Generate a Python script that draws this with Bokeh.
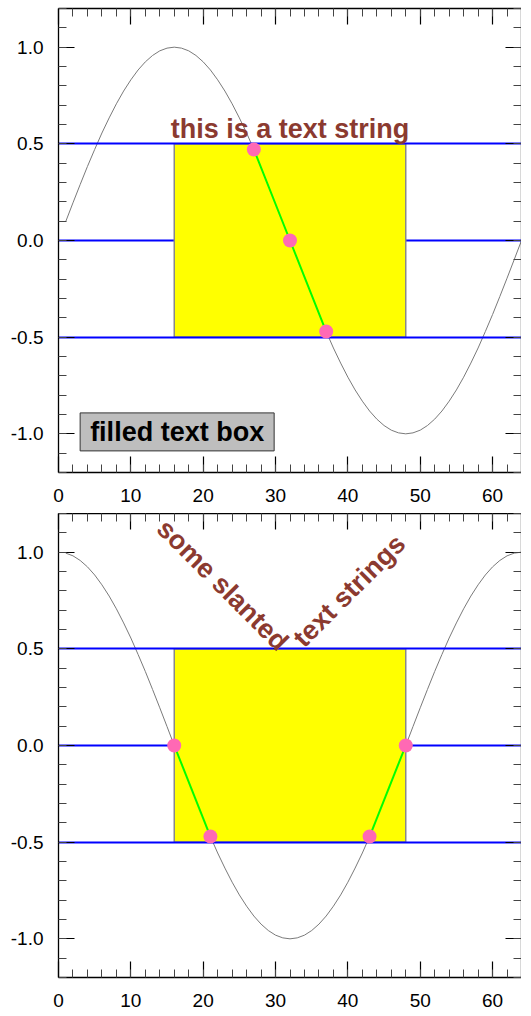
import math
from bokeh.plotting import figure
from bokeh.layouts import column
from bokeh.models import LinearAxis, FixedTicker, Range1d, CustomLabelingPolicy
from bokeh.core.properties import value
from bokeh.embed import file_html
from bokeh.resources import INLINE

# ---------------- data ----------------
x_vals = list(range(1, 65))
sine_vals = [0.098, 0.195, 0.290, 0.383, 0.471, 0.556, 0.634, 0.707, 0.773, 0.831,
             0.882, 0.924, 0.957, 0.981, 0.995, 1.000, 0.995, 0.981, 0.957, 0.924,
             0.882, 0.831, 0.773, 0.707, 0.634, 0.556, 0.471, 0.383, 0.290, 0.195,
             0.098, 0.000, -0.098, -0.195, -0.290, -0.383, -0.471, -0.556, -0.634, -0.707,
             -0.773, -0.831, -0.882, -0.924, -0.957, -0.981, -0.995, -1.000, -0.995, -0.981,
             -0.957, -0.924, -0.882, -0.831, -0.773, -0.707, -0.634, -0.556, -0.471, -0.383,
             -0.290, -0.195, -0.098, 0.000]
cos_vals = [0.995, 0.981, 0.957, 0.924, 0.882, 0.831, 0.773, 0.707, 0.634, 0.556,
            0.471, 0.383, 0.290, 0.195, 0.098, 0.000, -0.098, -0.195, -0.290, -0.383,
            -0.471, -0.556, -0.634, -0.707, -0.773, -0.831, -0.882, -0.924, -0.957, -0.981,
            -0.995, -1.000, -0.995, -0.981, -0.957, -0.924, -0.882, -0.831, -0.773, -0.707,
            -0.634, -0.556, -0.471, -0.383, -0.290, -0.195, -0.098, 0.000, 0.098, 0.195,
            0.290, 0.383, 0.471, 0.556, 0.634, 0.707, 0.773, 0.831, 0.882, 0.924,
            0.957, 0.981, 0.995, 1.000]

x_major = [0, 10, 20, 30, 40, 50, 60]
x_minor = [0, 2, 4, 6, 8, 10, 12, 14, 16, 18, 20, 22, 24, 26, 28, 30, 32,
           34, 36, 38, 40, 42, 44, 46, 48, 50, 52, 54, 56, 58, 60, 62, 64]
y_major = [-1.0, -0.5, 0.0, 0.5, 1.0]
y_minor = [-1.2, -1.1, -1.0, -0.9, -0.8, -0.7, -0.6, -0.5, -0.4, -0.3, -0.2, -0.1, 0.0,
           0.1, 0.2, 0.3, 0.4, 0.5, 0.6, 0.7, 0.8, 0.9, 1.0, 1.1, 1.2]
y_labels = {-1.0: "-1.0", -0.5: "-0.5", 0.0: "0.0", 0.5: "0.5", 1.0: "1.0"}

box_x = [16, 48]
box_y = [-0.5, 0.5]
hline_y = [0.5, 0.0, -0.5]

top_pts_x = [27, 32, 37]
top_pts_y = [0.471, 0.0, -0.471]
bot_seg_x = [[16, 21], [43, 48]]
bot_seg_y = [[0.0, -0.471], [-0.471, 0.0]]

top_text = ["this is a text string"]
top_text_x = [32]
top_text_y = [0.575]
box_text = ["filled text box"]
box_text_x = [16.4]
box_text_y = [-0.99]
slant1_text = ["some slanted"]
slant1_x = [22.7]
slant1_y = [0.83]
slant2_text = ["text strings"]
slant2_x = [40.2]
slant2_y = [0.80]

FONT = value("Liberation Sans")
BROWN = "#8B3A30"

NO_LABELS = """
for (const i of indices) {
    indices.unset(i)
}
return indices
"""


def style_axis(ax, labels):
    ax.major_tick_in = 16
    ax.major_tick_out = 0
    ax.minor_tick_in = 8
    ax.minor_tick_out = 0
    ax.axis_line_color = "black"
    ax.axis_line_width = 1.3
    ax.major_tick_line_color = "black"
    ax.major_tick_line_width = 1.2
    ax.minor_tick_line_color = "#444444"
    ax.minor_tick_line_width = 1
    if labels:
        ax.major_label_text_font = "Liberation Sans"
        ax.major_label_text_font_size = "19px"
        ax.major_label_text_color = "black"
    else:
        ax.major_label_text_font_size = "0px"
        ax.major_label_standoff = 0
        ax.major_label_policy = CustomLabelingPolicy(code=NO_LABELS)


def make_fig(top_border, bottom_border):
    p = figure(frame_width=463, frame_height=464,
               x_range=Range1d(0, 64), y_range=Range1d(-1.2, 1.2),
               output_backend="svg", toolbar_location=None,
               min_border_left=58, min_border_right=0,
               min_border_top=top_border, min_border_bottom=bottom_border)
    p.grid.visible = False
    p.outline_line_color = None
    p.background_fill_color = "white"
    p.border_fill_color = "white"

    xt = FixedTicker(ticks=x_major, minor_ticks=x_minor)
    yt = FixedTicker(ticks=y_major, minor_ticks=y_minor)

    xa = p.xaxis[0]
    xa.ticker = xt
    style_axis(xa, True)
    xa.major_label_standoff = 16
    ya = p.yaxis[0]
    ya.ticker = yt
    ya.major_label_overrides = y_labels
    style_axis(ya, True)
    ya.major_label_standoff = 15

    top_ax = LinearAxis(ticker=FixedTicker(ticks=x_major, minor_ticks=x_minor))
    style_axis(top_ax, False)
    p.add_layout(top_ax, "above")
    right_ax = LinearAxis(ticker=FixedTicker(ticks=y_major, minor_ticks=y_minor))
    style_axis(right_ax, False)
    p.add_layout(right_ax, "right")
    return p


def draw_common(p, yvals):
    p.line(x_vals, yvals, line_color="#7a7a7a", line_width=1)
    p.hspan(y=[hline_y[1]], line_color="blue", line_width=2)
    p.quad(left=[box_x[0]], right=[box_x[1]], bottom=[box_y[0]], top=[box_y[1]],
           fill_color="yellow", line_color="#888888", line_width=1.5)
    p.hspan(y=[hline_y[0], hline_y[2]], line_color="blue", line_width=2)


# ---------------- top panel ----------------
p1 = make_fig(8, 41)
draw_common(p1, sine_vals)
p1.line(top_pts_x, top_pts_y, line_color="#00FF00", line_width=2)
p1.scatter(top_pts_x, top_pts_y, size=14, fill_color="#FF69B4", line_color=None)
p1.text(top_text_x, top_text_y, text=top_text, text_font=FONT, text_font_style="bold",
        text_font_size="27px", text_color=BROWN, text_align="center",
        text_baseline="alphabetic")
p1.text(box_text_x, box_text_y, text=box_text, text_font=FONT, text_font_style="bold",
        text_font_size="27px", text_color="black", text_align="center",
        text_baseline="middle", background_fill_color="#BEBEBE",
        border_line_color="#333333", border_line_width=1, padding=(10, 4))

# ---------------- bottom panel ----------------
p2 = make_fig(0, 0)
draw_common(p2, cos_vals)
p2.multi_line(bot_seg_x, bot_seg_y, line_color="#00FF00", line_width=2)
p2.scatter([s for seg in bot_seg_x for s in seg], [s for seg in bot_seg_y for s in seg],
           size=14, fill_color="#FF69B4", line_color=None)
p2.text(slant1_x, slant1_y, text=slant1_text, text_font=FONT, text_font_style="bold",
        text_font_size="27px", text_color=BROWN, text_align="center",
        text_baseline="middle", angle=-math.pi / 4)
p2.text(slant2_x, slant2_y, text=slant2_text, text_font=FONT, text_font_style="bold",
        text_font_size="27px", text_color=BROWN, text_align="center",
        text_baseline="middle", angle=math.pi / 4)

layout = column(p1, p2, spacing=0)
open("out.html", "w").write(file_html(layout, INLINE))
